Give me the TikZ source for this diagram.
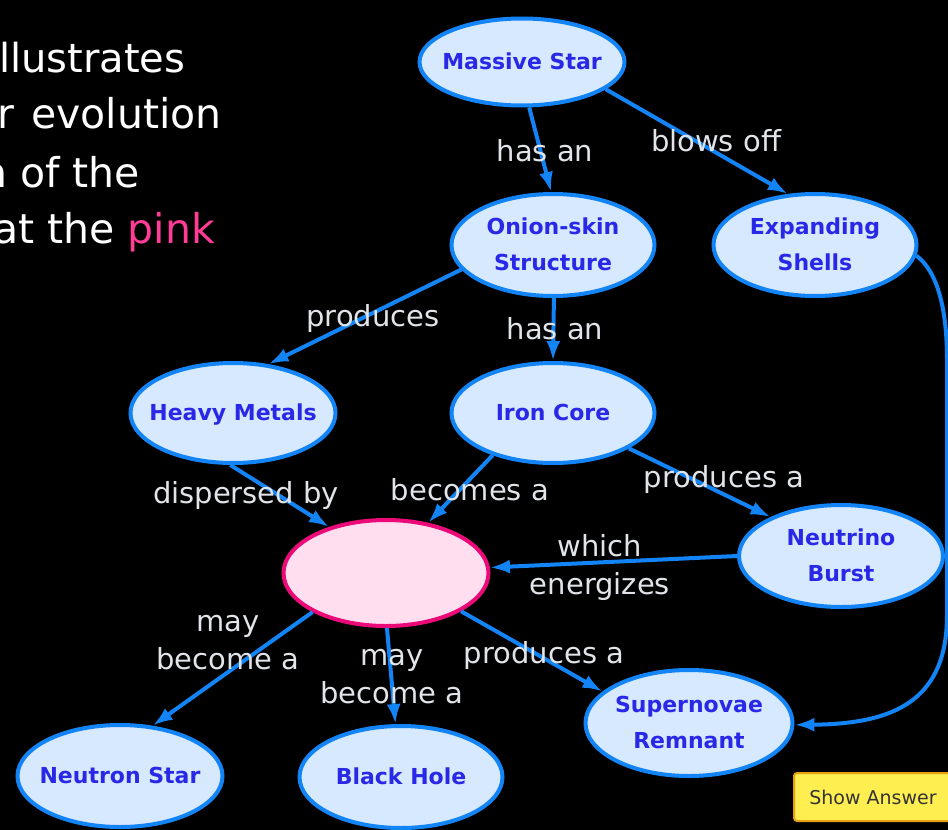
\documentclass[tikz,border=0pt]{standalone}
\usepackage{fontspec}
\setmainfont{DejaVu Sans}
\usetikzlibrary{shapes.geometric,arrows.meta}
\definecolor{cblue}{RGB}{18,132,245}
\definecolor{cfill}{RGB}{214,233,255}
\definecolor{ctext}{RGB}{40,40,230}
\definecolor{pinkfill}{RGB}{255,222,240}
\definecolor{pinkline}{RGB}{235,10,120}
\definecolor{lblcol}{RGB}{225,228,232}
\definecolor{hotpink}{RGB}{255,60,150}
\definecolor{btnfill}{RGB}{255,238,80}
\definecolor{btnline}{RGB}{230,160,20}
\newcommand\zbox[1]{\makebox[0pt][c]{\begin{tabular}{@{}c@{}}#1\end{tabular}}}
\begin{document}
\begin{tikzpicture}[x=1pt,y=-1pt,
 concept/.style={ellipse, draw=cblue, fill=cfill, line width=4pt, inner sep=0pt,
   text=ctext, font=\fontsize{22}{36}\selectfont\bfseries},
 hole/.style={ellipse, draw=pinkline, fill=pinkfill, line width=4pt, inner sep=0pt},
 link/.style={draw=cblue, line width=4pt, -{Latex[length=20pt,width=14pt]}},
 lbl/.style={text=lblcol, font=\fontsize{29}{38}\selectfont, align=center, inner sep=0pt},
 tl/.style={text=white, font=\fontsize{41}{48}\selectfont, inner sep=0pt, anchor=base west},
]
\useasboundingbox (0,0) rectangle (948,830);
\fill[black] (0,0) rectangle (948,830);
\clip (0,0) rectangle (948,830);

% intro text
\node[tl, font=\fontsize{40}{48}\selectfont] (t1) at (-1,72) {llustrates};
\node[tl] (t2) at (-3,128) {r\hspace{4pt} evolution};
\node[tl] (t3) at (-19,187) {n of the};
\node[tl] (t4) at (-7,243) {at the \textcolor{hotpink}{pink}};

% concepts
\node[concept, minimum width=205pt, minimum height=87pt] (ms) at (522,62) {\zbox{Massive Star}};
\node[concept, minimum width=203pt, minimum height=102pt] (on) at (553,245) {\zbox{Onion-skin\\Structure}};
\node[concept, minimum width=203pt, minimum height=102pt] (es) at (815,245) {\zbox{Expanding\\Shells}};
\node[concept, minimum width=205pt, minimum height=100pt] (hm) at (233,413) {\zbox{Heavy Metals}};
\node[concept, minimum width=203pt, minimum height=100pt] (ic) at (553,413) {\zbox{Iron Core}};
\node[concept, minimum width=204pt, minimum height=102pt] (nb) at (841,556) {\zbox{Neutrino\\Burst}};
\node[hole, minimum width=205pt, minimum height=106pt] (sn) at (386,573) {};
\node[concept, minimum width=207pt, minimum height=106pt] (sr) at (689,723) {\zbox{Supernovae\\Remnant}};
\node[concept, minimum width=205pt, minimum height=102pt] (ns) at (120,776) {\zbox{Neutron Star}};
\node[concept, minimum width=203pt, minimum height=102pt] (bh) at (401,777) {\zbox{Black Hole}};

% connectors
\draw[link] (ms.-81) -- (on.92);
\draw[link] (ms.-18) -- (es.118);
\draw[link] (on.195) -- (hm.54);
\draw[link] (on.-89) -- (ic.90);
\draw[link] (hm.-93) -- (sn.141);
\draw[link] (ic.215) -- (sn.50);
\draw[link] (ic.-25) -- (nb.151);
\draw[link] (nb.180) -- (sn.3);
\draw[link] (sn.208) -- (ns.57);
\draw[link] (sn.-89) -- (bh.96);
\draw[link] (sn.-27) -- (sr.160);
\draw[link] (es.-6) .. controls (938,272) and (947,310) .. (947,360) -- (947,615)
  .. controls (947,700) and (895,724) .. (sr.-1);

% link labels
\node[lbl] (l1) at (545,151) {has an};
\node[lbl] (l2) at (716,141) {blows off};
\node[lbl] (l3) at (373,318) {produces};
\node[lbl] (l4) at (555,329) {has an};
\node[lbl] (l5) at (246,495) {dispersed by};
\node[lbl] (l6) at (470,490) {becomes a};
\node[lbl] (l7) at (724,479) {produces a};
\node[lbl] (l8) at (600,567) {which\\energizes};
\node[lbl] (l9) at (228,643) {may\\become a};
\node[lbl] (l10) at (392,677) {may\\become a};
\node[lbl] (l11) at (544,655) {produces a};

% button
\node[draw=btnline, fill=btnfill, line width=2pt, rounded corners=3pt,
  minimum width=170pt, minimum height=48pt, anchor=north west] (btn) at (793,772) {};
\node[font=\fontsize{19}{22}\selectfont, text=black!80] (btnt) at (873,797) {Show Answer};
\end{tikzpicture}
\end{document}
